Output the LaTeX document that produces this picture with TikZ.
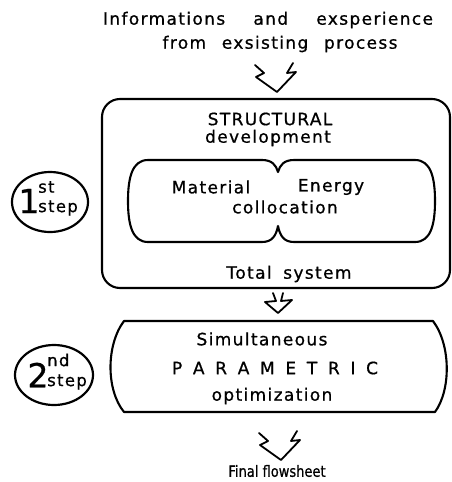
\documentclass[tikz,border=0pt]{standalone}
\usepackage{fontspec}
\setmainfont{DejaVu Sans}[LetterSpace=8,FakeBold=0.8]
\newfontfamily\tightfont{DejaVu Sans}[FakeBold=0.8]
\usetikzlibrary{shapes.geometric}
\begin{document}
\begin{tikzpicture}[x=1pt,y=-1pt, line join=round, line cap=round,
  txt/.style={inner sep=0pt, font=\fontsize{17}{19}\selectfont},
  outline/.style={draw, line width=2.1pt},
  stepell/.style={draw, ellipse, line width=2.2pt, inner sep=0pt},
  bigdig/.style={inner sep=0pt, font=\fontsize{33}{33}\selectfont},
  smalltxt/.style={inner sep=0pt, font=\fontsize{16.5}{16.5}\selectfont},
  bolt/.pic={\draw[line width=1.8pt] (-22,-27) -- (-13,-19) -- (-21,-15) -- (0,0) -- (19,-20) -- (10,-19) -- (16,-29);},
  smallbolt/.pic={\draw[line width=1.8pt] (-5,-20) -- (-2,-12) -- (-13,-11) -- (0,0) -- (14,-13) -- (3,-12) -- (5,-20);}
]
\useasboundingbox (0,0) rectangle (452,482);

% top text
\node[txt] (in1) at (268,20) {\makebox[330pt][s]{Informations and exsperience}};
\node[txt] (in2) at (280,44) {\makebox[235pt][s]{from exsisting process}};

\coordinate (tip1) at (277,92);
\pic at (tip1) {bolt};

% box 1
\node[outline, rounded corners=18pt, minimum width=348pt, minimum height=189pt, inner sep=0pt] (box1) at (276,193.5) {};
\node[txt] (struct) at (270,119) {STRUCTURAL};
\node[txt] (devel) at (268,138) {development};

% inner peanut
\draw[line width=2.1pt] (278,172) .. controls (280,165) and (284,160) .. (294,160)
  -- (415,160) .. controls (431,160) and (435,178) .. (435,201)
  .. controls (435,224) and (431,242) .. (415,242)
  -- (294,242) .. controls (284,242) and (280,236) .. (278,226)
  .. controls (276,236) and (272,242) .. (262,242)
  -- (148,242) .. controls (132,242) and (128,224) .. (128,201)
  .. controls (128,178) and (132,160) .. (148,160)
  -- (262,160) .. controls (272,160) and (276,165) .. (278,172) -- cycle;
\node[txt] (mat) at (211,187) {Material};
\node[txt] (ene) at (331,187) {Energy};
\node[txt] (coll) at (285,207) {collocation};
\node[txt] (tot) at (289,274) {\makebox[125pt][s]{Total system}};

% step 1
\node[stepell, minimum width=76pt, minimum height=60pt] (e1) at (50,202) {};
\node[bigdig] (d1) at (29,201) {1};
\node[smalltxt, anchor=west] (st1) at (38,187) {st};
\node[smalltxt, anchor=west] (sp1) at (38,208) {step};

\coordinate (tip2) at (278,313);
\pic at (tip2) {smallbolt};

% box 2
\draw[line width=2.1pt] (124,321) -- (433,321) .. controls (451,345) and (451,390) .. (435,412)
  -- (124,412) .. controls (106,390) and (106,345) .. (124,321) -- cycle;
\node[txt] (sim) at (262,339) {Simultaneous};
\node[txt] (par) at (275,368) {\makebox[206pt][s]{P A R A M E T R I C}};
\node[txt] (opt) at (272,396) {optimization};

% step 2
\node[stepell, minimum width=78pt, minimum height=60pt] (e2) at (54,375) {};
\node[bigdig] (d2) at (38,375) {2};
\node[smalltxt, anchor=west] (st2) at (47,360) {nd};
\node[smalltxt, anchor=west] (sp2) at (47,382) {step};

\coordinate (tip3) at (281,460);
\pic at (tip3) {bolt};
\node[inner sep=0pt, font=\tightfont\fontsize{15.5}{17}\selectfont, xscale=0.84, transform shape] (fin) at (277,471) {Final flowsheet};
\end{tikzpicture}
\end{document}
